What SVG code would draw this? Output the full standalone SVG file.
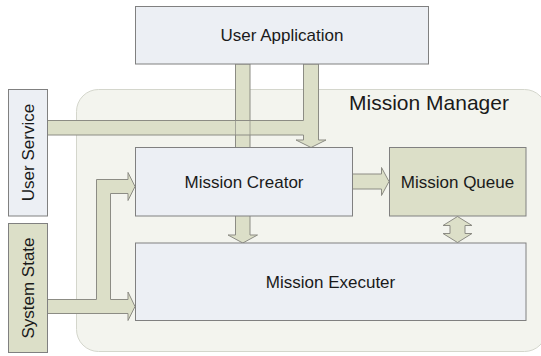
<svg xmlns="http://www.w3.org/2000/svg" width="541" height="356" viewBox="0 0 541 356">
<style>
text{font-family:"Liberation Sans",Arial,sans-serif;fill:#1a1a1a;text-anchor:middle}
.box{fill:#eceff4;stroke:#808080;stroke-width:1}
.gbox{fill:#dcdfc8;stroke:#808080;stroke-width:1}
.band{fill:#dcdfc8;stroke:#8c8c84;stroke-width:1;stroke-linejoin:miter}
.edge{fill:none;stroke:#8c8c84;stroke-width:1;stroke-opacity:0.7}
.lbl{font-size:17px}
</style>
<rect width="541" height="356" fill="#ffffff"/>
<g id="mission-manager">
<rect x="76.5" y="89.5" width="470" height="262" rx="22" ry="22" fill="#f3f4ee" stroke="#d4d6cc" stroke-width="1"/>
<text x="429" y="110" style="font-size:21px">Mission Manager</text>
</g>
<g id="connectors">
<polygon class="band" points="235.5,64 250,64 250,235 257.5,235 242.8,243 228,235 235.5,235"/>
<polygon class="band" points="303.5,64 318.5,64 318.5,140 326,140 311,147.5 296,140 303.5,140 303.5,135 47.5,135 47.5,120.5 303.5,120.5"/>
<path class="edge" d="M235.5,120.5V135M250,120.5V135"/>
<polygon class="band" points="352.5,174 381.5,174 381.5,167.5 389,181.5 381.5,195.5 381.5,189 352.5,189"/>
<polygon class="band" points="457.5,216.5 472,225.5 465,225.5 465,233.5 472,233.5 457.5,242.5 443,233.5 450,233.5 450,225.5 443,225.5"/>
<polygon class="band" points="47.5,299.5 96.5,299.5 96.5,179.5 128,179.5 128,172.5 135,186.5 128,200.5 128,193.5 110.5,193.5 110.5,299.5 128,299.5 128,292 135,306.5 128,320.5 128,313.5 47.5,313.5"/>
</g>
<g id="user-application">
<rect class="box" x="135.5" y="6.5" width="293" height="57.5"/>
<text class="lbl" x="282" y="41">User Application</text>
</g>
<g id="user-service">
<rect class="box" x="8.5" y="89.5" width="39" height="126.5"/>
<text class="lbl" transform="translate(34,152.5) rotate(-90)">User Service</text>
</g>
<g id="system-state">
<rect class="gbox" x="8.5" y="223.5" width="39" height="129"/>
<text class="lbl" transform="translate(34,288) rotate(-90)">System State</text>
</g>
<g id="mission-creator">
<rect class="box" x="135.5" y="147.5" width="217" height="68.5"/>
<text class="lbl" x="244" y="187.5">Mission Creator</text>
</g>
<g id="mission-queue">
<rect class="gbox" x="389.5" y="147.5" width="136.5" height="68.5"/>
<text class="lbl" x="457.5" y="187.5">Mission Queue</text>
</g>
<g id="mission-executer">
<rect class="box" x="135.5" y="243" width="390.5" height="77.5"/>
<text class="lbl" x="330.5" y="288">Mission Executer</text>
</g>
</svg>
